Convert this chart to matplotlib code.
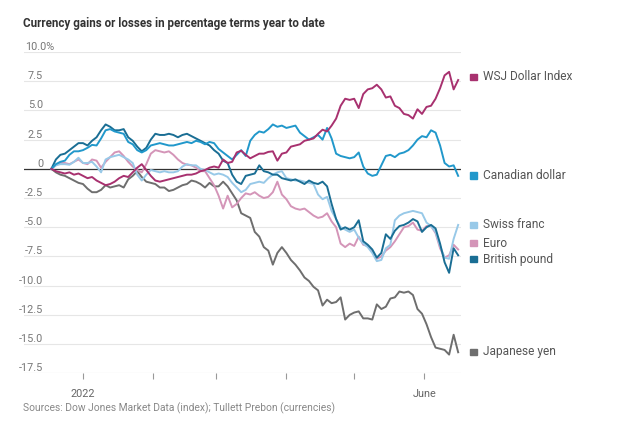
import matplotlib
matplotlib.use("Agg")
import matplotlib.pyplot as plt
import matplotlib.dates as mdates
import pandas as pd
import datetime as dt

# ---------------- data (percent change year to date) ----------------
dates = pd.date_range("2021-12-18", periods=91, freq="2D")

wsj_dollar_index = [
    0.0, -0.2, -0.3, -0.4, -0.3, -0.5, -0.4, -0.6, -0.8, -0.7,
    -1.0, -1.2, -1.4, -1.3, -1.1, -0.8, -0.6, -0.7, -0.3, 0.1,
    0.4, -0.1, -0.6, -1.0, -1.1, -1.0, -0.9, -0.8, -0.7, -0.6,
    -0.5, -0.5, -0.4, -0.2, -0.1, 0.1, 0.2, 0.1, 0.8, 0.5,
    0.6, 1.4, 1.55, 1.2, 0.9, 1.1, 1.3, 1.3, 1.45, 1.5,
    0.7, 1.3, 1.4, 1.9, 2.0, 2.1, 2.4, 2.5, 2.6, 3.0,
    3.35, 3.2, 3.7, 4.3, 5.4, 6.0, 5.9, 6.0, 5.2, 6.4,
    6.8, 6.9, 7.2, 6.8, 6.1, 6.2, 5.4, 5.2, 4.7, 4.6,
    4.3, 5.1, 4.7, 5.3, 5.4, 6.0, 6.9, 8.0, 8.3, 6.8,
    7.6,
]
canadian_dollar = [
    0.0, 0.4, 0.6, 0.7, 1.2, 1.5, 1.5, 1.6, 1.8, 2.05,
    2.0, 2.6, 3.3, 3.4, 3.2, 3.1, 3.0, 2.3, 2.1, 1.6,
    1.4, 1.6, 2.0, 2.1, 2.2, 2.1, 2.0, 2.0, 2.1, 2.2,
    2.3, 2.2, 2.4, 2.3, 2.1, 2.3, 2.2, 1.7, 1.4, 1.1,
    0.8, 1.2, 1.6, 1.1, 2.4, 2.9, 3.2, 3.1, 3.4, 3.8,
    3.6, 3.7, 3.5, 3.6, 3.7, 3.1, 2.8, 2.5, 2.7, 2.9,
    2.5, 3.5, 2.6, 1.3, 1.1, 1.0, 0.9, 1.0, 1.4, 0.2,
    -0.4, -0.6, -0.5, 0.3, 1.1, 1.2, 1.0, 1.3, 1.4, 1.6,
    2.0, 2.5, 2.8, 2.7, 3.3, 3.1, 2.0, 0.5, 0.2, 0.3,
    -0.6,
]
swiss_franc = [
    0.0, 0.3, 0.4, 0.4, 0.35, 0.6, 0.95, 0.5, 0.5, 0.6,
    0.2, -0.3, 0.8, 1.0, 1.1, 1.2, 1.0, 0.8, 0.5, -0.5,
    -1.0, -0.5, -0.1, -0.2, -0.3, -0.2, -0.3, -0.3, -0.2, 0.2,
    0.4, 0.3, 0.3, 0.0, -0.1, -0.3, -0.5, -0.4, -0.5, -0.7,
    -1.2, -1.6, -2.0, -1.8, -1.3, -1.2, -1.1, -1.2, -0.8, -0.5,
    -0.3, -0.2, -0.8, -0.9, -1.0, -1.0, -1.1, -1.2, -1.3, -2.2,
    -2.6, -2.4, -3.6, -4.3, -5.0, -5.2, -5.4, -5.2, -5.9, -6.4,
    -6.7, -7.2, -7.9, -7.8, -6.8, -6.5, -4.4, -4.0, -3.8, -3.7,
    -3.6, -3.7, -3.8, -4.6, -4.9, -5.4, -6.6, -7.6, -7.7, -6.0,
    -4.8,
]
euro = [
    0.0, 0.3, 0.5, 0.5, 0.4, 0.6, 0.8, 0.5, 0.4, 0.8,
    0.7, 0.1, 0.6, 1.0, 1.4, 1.5, 1.1, 0.6, 0.2, -0.1,
    -0.3, 0.4, 1.3, 1.6, 1.5, 1.4, 1.5, 1.2, 0.8, 0.5,
    0.35, 0.3, 0.1, -0.2, -0.2, -0.8, -1.4, -2.3, -3.4, -2.3,
    -3.3, -3.0, -2.5, -2.1, -2.2, -2.0, -2.3, -2.5, -2.4, -2.0,
    -1.1, -2.2, -2.6, -3.2, -3.4, -3.5, -3.4, -3.7, -4.0, -4.2,
    -4.1, -3.8, -4.5, -5.0, -6.4, -6.7, -6.4, -6.6, -5.8, -6.5,
    -6.6, -7.1, -7.7, -7.5, -7.0, -6.7, -6.2, -5.6, -5.0, -4.9,
    -4.6, -5.2, -5.3, -4.9, -4.9, -5.5, -6.8, -7.6, -7.4, -6.5,
    -6.9,
]
british_pound = [
    0.0, 0.8, 1.2, 1.3, 1.6, 1.9, 2.2, 2.2, 2.0, 2.4,
    2.7, 3.3, 3.8, 3.6, 3.3, 3.3, 3.4, 2.7, 2.4, 1.9,
    1.5, 1.8, 2.5, 3.0, 2.9, 2.9, 3.0, 2.9, 2.7, 2.9,
    3.0, 2.8, 2.6, 2.4, 2.2, 2.0, 1.6, 1.3, 0.7, 0.5,
    -0.5, -1.1, -1.3, -0.6, -0.5, -0.4, 0.3, -0.2, -0.3, -0.5,
    -0.5, -0.8, -0.9, -1.0, -0.9, -1.1, -1.3, -1.0, -1.2, -1.3,
    -1.1, -1.5, -3.0, -4.3, -5.2, -5.0, -5.2, -5.0, -4.4, -6.2,
    -6.5, -6.9, -7.6, -7.2, -5.6, -6.0, -5.3, -4.9, -4.8, -4.6,
    -4.3, -4.5, -5.4, -5.0, -4.8, -5.1, -6.4, -8.0, -8.9, -6.8,
    -7.4,
]
japanese_yen = [
    0.0, -0.3, -0.5, -0.6, -0.8, -1.0, -1.2, -1.3, -1.7, -2.0,
    -2.0, -1.8, -1.4, -1.6, -1.5, -1.4, -1.6, -0.9, -0.6, -0.2,
    -0.7, -1.1, -1.2, -1.3, -1.6, -1.6, -1.9, -1.8, -1.6, -1.4,
    -1.3, -1.0, -1.1, -1.3, -1.6, -1.2, -1.5, -1.5, -1.1, -1.5,
    -2.1, -2.7, -3.8, -4.0, -4.2, -5.4, -5.8, -6.7, -7.0, -8.2,
    -7.2, -6.7, -7.2, -7.8, -8.2, -8.7, -9.3, -9.6, -10.1, -10.4,
    -11.7, -11.2, -11.5, -11.4, -11.0, -12.9, -12.5, -12.3, -12.2, -12.8,
    -12.8, -12.9, -11.6, -12.0, -11.8, -11.1, -11.0, -10.5, -10.6, -10.5,
    -10.8, -12.0, -12.4, -13.3, -14.4, -15.3, -15.4, -15.5, -15.9, -14.2,
    -15.7,
]

series_names = ["Japanese yen", "Euro", "Swiss franc", "British pound",
                "Canadian dollar", "WSJ Dollar Index"]
series_values = [japanese_yen, euro, swiss_franc, british_pound,
                 canadian_dollar, wsj_dollar_index]
series_colors = ["#6e6e6e", "#d495b8", "#98c9e8", "#1a6e94",
                 "#2198cb", "#a8316f"]

y_ticks = [10.0, 7.5, 5.0, 2.5, 0, -2.5, -5.0, -7.5, -10.0, -12.5, -15.0, -17.5]
y_tick_labels = ["10.0%", "7.5", "5.0", "2.5", "0", "-2.5", "-5.0", "-7.5",
                 "-10.0", "-12.5", "-15.0", "-17.5"]
month_ticks = pd.to_datetime(["2022-01-01", "2022-02-01", "2022-03-01",
                              "2022-04-01", "2022-05-01", "2022-06-01"])
month_labels = ["2022", "", "", "", "", "June"]

title = "Currency gains or losses in percentage terms year to date"
source = "Sources: Dow Jones Market Data (index); Tullett Prebon (currencies)"

plt.rcParams["font.family"] = ["Roboto", "DejaVu Sans"]

# ---------------- figure ----------------
W, H = 620, 428
fig = plt.figure(figsize=(W / 100, H / 100), dpi=100)

def fx(x):
    return x / W

def fy(y):
    return 1 - y / H

ax_left, ax_right, ax_top, ax_bot = 24, 461, 52, 373.3
ax = fig.add_axes([fx(ax_left), fy(ax_bot), (ax_right - ax_left) / W,
                   (ax_bot - ax_top) / H])
ax.set_ylim(-17.5, 10.0)
jan1 = mdates.date2num(dt.datetime(2022, 1, 1))
ppd = 2.26  # pixels per day
ax.set_xlim(jan1 - (83 - ax_left) / ppd, jan1 + (ax_right - 83) / ppd)

for s in ax.spines.values():
    s.set_visible(False)
ax.set_yticks([])
ax.tick_params(axis="y", length=0, labelleft=False)

# gridlines
for v in y_ticks:
    if v == 0:
        ax.axhline(v, color="#333333", lw=0.9, zorder=3)
    elif v == -17.5:
        ax.axhline(v, color="#cfcfcf", lw=0.8, zorder=1)
    else:
        ax.axhline(v, color="#e6e6e6", lw=0.8, zorder=1)

# lines
for vals, col in zip(series_values, series_colors):
    ax.plot(dates, vals, color=col, lw=1.4, zorder=4, solid_joinstyle="round")

# x ticks
ax.set_xticks(month_ticks)
ax.set_xticklabels(month_labels)
ax.tick_params(axis="x", direction="out", length=4, width=0.8, color="#999999",
               labelsize=7.8, labelcolor="#666666", pad=7)

# y tick labels as text above gridlines
for v, lab in zip(y_ticks, y_tick_labels):
    ypix = ax_bot - (v + 17.5) * (ax_bot - ax_top) / 27.5
    if lab.endswith("%"):
        fig.text(fx(25), fy(ypix - 2), lab, ha="left", va="baseline",
                 fontsize=7.8, color="#777777")
    else:
        fig.text(fx(43), fy(ypix - 2), lab, ha="right", va="baseline",
                 fontsize=7.8, color="#777777")

# legend labels at right
legend_pos = {"WSJ Dollar Index": 77, "Canadian dollar": 175.5,
              "Swiss franc": 225, "Euro": 243, "British pound": 259,
              "Japanese yen": 352}
for name, col in zip(series_names, series_colors):
    yp = legend_pos[name]
    fig.patches.append(plt.Rectangle((fx(470), fy(yp + 3.4)), 6.8 / W, 6.8 / H,
                                     transform=fig.transFigure, color=col,
                                     figure=fig))
    fig.text(fx(483), fy(yp), name, ha="left", va="center", fontsize=8.6,
             color="#555555")

t = fig.text(fx(23), fy(26.5), title, ha="left", va="baseline", fontsize=9.5,
             fontweight="bold", color="#333333")
s = fig.text(fx(23), fy(408), source, ha="left", va="center", fontsize=8,
             color="#888888")

# fit text widths to the reference widths
fig.canvas.draw()
r = fig.canvas.get_renderer()
for txt, target in [(t, 305), (s, 313)]:
    w = txt.get_window_extent(r).width
    txt.set_fontsize(txt.get_fontsize() * target / w)

fig.savefig("out.png", dpi=100, facecolor="white")
